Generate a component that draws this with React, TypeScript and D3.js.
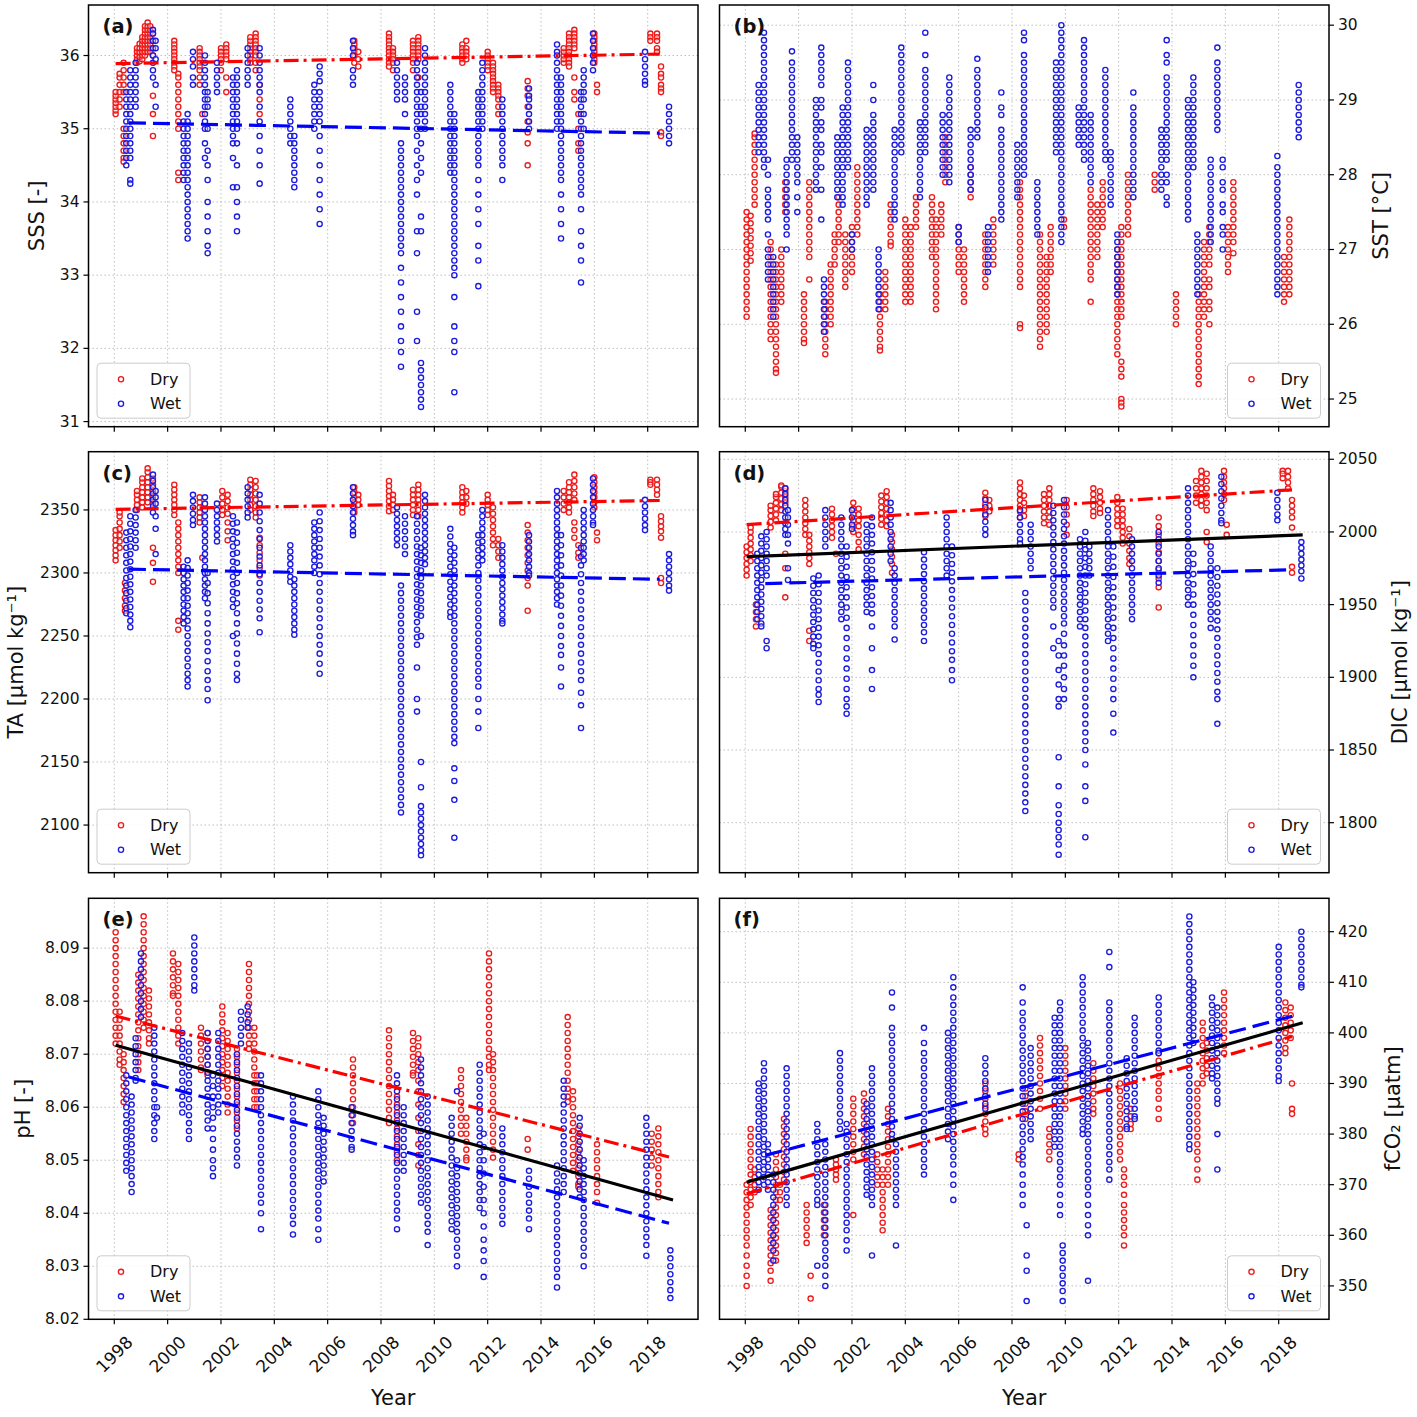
import React from "react";
import * as d3 from "d3";

type Cruise = [number, number[]];
type Pt = [number, number];

// ---------- axis ticks ----------
const yearTicks = [1998, 2000, 2002, 2004, 2006, 2008, 2010, 2012, 2014, 2016, 2018];
const sssTicks = [31, 32, 33, 34, 35, 36];
const sstTicks = [25, 26, 27, 28, 29, 30];
const taTicks = [2100, 2150, 2200, 2250, 2300, 2350];
const dicTicks = [1800, 1850, 1900, 1950, 2000, 2050];
const phTicks = [8.02, 8.03, 8.04, 8.05, 8.06, 8.07, 8.08, 8.09];
const fco2Ticks = [350, 360, 370, 380, 390, 400, 410, 420];

// ---------- (a) SSS ----------
const sssDry: Cruise[] = [
  [1998.05, [35.2, 35.25, 35.3, 35.35, 35.4, 35.45, 35.5]],
  [1998.2, [35.3, 35.4, 35.5, 35.6, 35.7, 35.75]],
  [1998.35, [35.5, 35.6, 35.7, 35.8, 35.9, 35.0, 34.9, 34.8, 34.7, 34.6, 34.55]],
  [1998.85, [35.9, 35.95, 36.0, 36.05, 36.1]],
  [1998.95, [35.92, 35.98, 36.04, 36.1, 36.16]],
  [1999.05, [35.95, 36.0, 36.05, 36.1, 36.15, 36.2, 36.25]],
  [1999.15, [36.0, 36.05, 36.1, 36.15, 36.2, 36.25, 36.3, 36.35, 36.4]],
  [1999.25, [36.05, 36.1, 36.15, 36.2, 36.25, 36.3, 36.35, 36.4, 36.45]],
  [1999.35, [36.05, 36.1, 36.15, 36.2, 36.25, 36.3, 36.35, 36.4]],
  [1999.45, [36.0, 36.1, 36.2, 36.3, 35.45, 35.2, 34.9]],
  [2000.25, [36.2, 36.15, 36.1, 36.05, 36.0, 35.95, 35.9, 35.85, 35.8]],
  [2000.4, [35.75, 35.7, 35.6, 35.5, 35.4, 35.3, 35.2, 35.1, 35.0, 34.4, 34.3]],
  [2001.2, [36.1, 36.05, 36.0, 35.95, 35.9, 35.85, 35.8, 35.7, 35.6]],
  [2001.3, [35.2]],
  [2002.0, [36.1, 36.05, 36.0, 35.95, 35.9, 35.8]],
  [2002.2, [36.15, 36.1, 36.05, 36.0, 35.95, 35.7, 35.5]],
  [2003.1, [36.1, 36.15, 36.2, 36.25, 36.05, 36.0, 35.95, 35.9]],
  [2003.3, [36.3, 36.25, 36.2, 36.15, 36.1, 36.05, 36.0, 35.9, 35.8]],
  [2003.45, [35.6, 35.4, 35.2]],
  [2007.0, [36.2, 36.15, 36.1, 36.05, 36.0, 35.9]],
  [2007.15, [36.05, 35.95, 35.85]],
  [2008.3, [36.3, 36.25, 36.2, 36.15, 36.1, 36.05, 36.0, 35.95, 35.9, 35.85]],
  [2008.45, [36.1, 36.05, 36.0, 35.95, 35.9, 35.8]],
  [2009.2, [36.2, 36.15, 36.1, 36.05, 36.0, 35.95, 35.9, 35.8]],
  [2009.4, [36.25, 36.2, 36.15, 36.1, 36.05, 36.0, 35.95, 35.7]],
  [2011.05, [36.15, 36.1, 36.05, 36.0, 35.95, 35.9]],
  [2011.2, [36.2, 36.1, 36.05, 36.0, 35.95]],
  [2012.0, [36.05, 36.0, 35.95, 35.9, 35.85, 35.8]],
  [2012.2, [35.9, 35.85, 35.8, 35.75, 35.7, 35.65, 35.6, 35.55, 35.5]],
  [2012.4, [35.6, 35.55, 35.5, 35.45, 35.4, 35.3, 35.2]],
  [2013.5, [35.65, 35.55, 35.45, 35.3, 35.1, 34.95, 34.8, 34.5]],
  [2014.85, [35.9, 35.95, 36.0, 36.05, 36.1]],
  [2015.05, [36.3, 36.25, 36.2, 36.15, 36.1, 36.05, 36.0, 35.95, 35.9, 35.85]],
  [2015.25, [36.35, 36.3, 36.25, 36.2, 36.15, 36.1, 35.7, 35.5, 35.4]],
  [2015.4, [35.2, 35.0, 34.8, 34.7]],
  [2016.0, [36.3, 36.25, 36.2, 36.15, 36.1, 36.05, 36.0, 35.95, 35.9]],
  [2016.1, [35.6, 35.5]],
  [2018.1, [36.3, 36.25, 36.2]],
  [2018.35, [36.3, 36.25, 36.2, 36.1, 36.05]],
  [2018.5, [35.85, 35.75, 35.7, 35.6, 35.55, 35.5, 34.95, 34.9]],
];
const sssWet: Cruise[] = [
  [1998.45, [35.5, 35.4, 35.3, 35.2, 35.1, 35.0, 34.9, 34.8, 34.7, 34.6, 34.5]],
  [1998.6, [35.8, 35.7, 35.6, 35.5, 35.4, 35.3, 35.2, 35.1, 35.0, 34.9, 34.8, 34.7, 34.6, 34.3, 34.25]],
  [1998.8, [35.9, 35.8, 35.7, 35.6, 35.5, 35.4, 35.3]],
  [1999.45, [36.35, 36.3, 36.2, 36.1, 36.0, 35.9, 35.8, 35.7]],
  [1999.55, [36.2, 36.1, 35.95, 35.6, 35.3]],
  [2000.6, [35.1, 35.0, 34.9, 34.8, 34.7, 34.6, 34.5, 34.4, 34.3]],
  [2000.75, [35.2, 35.1, 35.0, 34.9, 34.8, 34.7, 34.6, 34.5, 34.4, 34.3, 34.2, 34.1, 34.0, 33.9, 33.8, 33.7, 33.6, 33.5]],
  [2000.95, [36.05, 35.95, 35.85, 35.7, 35.6]],
  [2001.4, [36.0, 35.9, 35.8, 35.7, 35.6, 35.5, 35.4, 35.3, 35.2, 35.1, 35.0, 34.8, 34.6]],
  [2001.5, [35.5, 35.4, 35.3, 35.0, 34.7, 34.5, 34.3, 34.0, 33.8, 33.6, 33.4, 33.3]],
  [2001.85, [35.9, 35.8, 35.7, 35.6, 35.5]],
  [2002.45, [35.7, 35.6, 35.5, 35.4, 35.3, 35.2, 35.1, 35.0, 34.9, 34.8, 34.6, 34.2]],
  [2002.6, [35.8, 35.7, 35.6, 35.5, 35.4, 35.3, 35.2, 35.1, 35.0, 34.8, 34.5, 34.2, 34.0, 33.8, 33.6]],
  [2003.0, [36.1, 36.0, 35.9, 35.8, 35.7, 35.6]],
  [2003.45, [36.1, 36.0, 35.9, 35.8, 35.7, 35.6, 35.5, 35.3, 35.1, 34.9, 34.7, 34.5, 34.25]],
  [2004.6, [35.4, 35.3, 35.2, 35.1, 35.0, 34.9, 34.8]],
  [2004.75, [34.9, 34.8, 34.7, 34.6, 34.5, 34.4, 34.3, 34.2]],
  [2005.5, [35.6, 35.5, 35.4, 35.3, 35.2, 35.1, 35.0]],
  [2005.7, [35.85, 35.75, 35.65, 35.5, 35.4, 35.3, 35.2, 35.1, 34.9, 34.7, 34.5, 34.3, 34.1, 33.9, 33.7]],
  [2006.95, [36.2, 36.1, 36.0, 35.8, 35.7, 35.6]],
  [2008.6, [35.9, 35.8, 35.7, 35.6, 35.5, 35.4]],
  [2008.75, [34.8, 34.7, 34.6, 34.5, 34.4, 34.3, 34.2, 34.1, 34.0, 33.9, 33.8, 33.7, 33.6, 33.5, 33.4, 33.3, 33.1, 32.9, 32.7, 32.5, 32.3, 32.1, 31.95, 31.75]],
  [2008.9, [35.7, 35.6, 35.5, 35.4, 35.2]],
  [2009.35, [35.9, 35.8, 35.7, 35.6, 35.5, 35.4, 35.3, 35.2, 35.1, 35.0, 34.9, 34.7, 34.5, 34.3, 34.1, 33.6, 33.3, 32.5, 32.1]],
  [2009.5, [35.5, 35.3, 35.2, 35.0, 34.8, 34.6, 34.4, 33.8, 33.6, 31.8, 31.7, 31.6, 31.5, 31.4, 31.3, 31.2]],
  [2009.65, [36.1, 36.0, 35.9, 35.8, 35.7, 35.6, 35.5, 35.4, 35.3, 35.2, 35.1, 35.0]],
  [2010.6, [35.6, 35.5, 35.4, 35.3, 35.2, 35.1, 35.0, 34.9, 34.8, 34.7, 34.6, 34.5, 34.4]],
  [2010.75, [35.2, 35.1, 35.0, 34.9, 34.8, 34.7, 34.6, 34.5, 34.4, 34.3, 34.2, 34.1, 34.0, 33.9, 33.8, 33.7, 33.6, 33.5, 33.4, 33.3, 33.2, 33.1, 33.0, 32.7, 32.3, 32.1, 31.95, 31.4]],
  [2011.65, [35.5, 35.4, 35.3, 35.2, 35.1, 35.0, 34.9, 34.8, 34.7, 34.6, 34.5, 34.3, 34.1, 33.9, 33.7, 33.4, 33.2, 32.85]],
  [2011.8, [35.9, 35.8, 35.7, 35.6, 35.5, 35.4, 35.3, 35.2, 35.1, 35.0]],
  [2012.55, [35.4, 35.3, 35.2, 35.1, 35.0, 34.9, 34.8, 34.7, 34.6, 34.5, 34.3]],
  [2013.55, [35.55, 35.45, 35.4, 35.3, 35.2, 35.1, 35.0]],
  [2014.6, [36.15, 36.05, 36.0, 35.9, 35.8, 35.7, 35.6, 35.5, 35.4, 35.3, 35.2, 35.1, 35.0]],
  [2014.75, [35.7, 35.6, 35.5, 35.4, 35.3, 35.2, 35.1, 35.0, 34.9, 34.8, 34.7, 34.6, 34.5, 34.4, 34.3, 34.1, 33.9, 33.7, 33.5]],
  [2015.5, [35.5, 35.4, 35.3, 35.2, 35.1, 35.0, 34.9, 34.8, 34.7, 34.6, 34.5, 34.4, 34.3, 34.2, 34.1, 33.9, 33.6, 33.4, 33.2, 32.9]],
  [2015.6, [35.8, 35.7, 35.6, 35.5, 35.4, 35.2, 35.0]],
  [2015.95, [36.3, 36.2, 36.1, 36.0, 35.9, 35.8]],
  [2017.9, [36.05, 35.95, 35.85, 35.75, 35.65, 35.6]],
  [2018.8, [35.3, 35.2, 35.1, 35.0, 34.9, 34.8]],
];
const sssTrendDry: Pt[] = [[1998.05, 35.89], [2018.45, 36.02]];
const sssTrendWet: Pt[] = [[1998.55, 35.08], [2018.45, 34.94]];

// ---------- (b) SST ----------
const sstDry: Cruise[] = [
  [1998.05, [27.5, 27.4, 27.3, 27.2, 27.1, 27.0, 26.9, 26.8, 26.7, 26.6, 26.5, 26.4, 26.3, 26.2, 26.1]],
  [1998.2, [27.45, 27.35, 27.25, 27.15, 27.05, 26.95, 26.85]],
  [1998.35, [27.6, 27.7, 27.8, 27.9, 28.0, 28.1, 28.2, 28.3, 28.4, 28.5, 28.55]],
  [1998.95, [27.1, 27.0, 26.9, 26.8, 26.7, 26.6, 26.5, 26.4, 26.3, 26.2, 26.1, 26.0, 25.9, 25.8]],
  [1999.15, [26.8, 26.7, 26.6, 26.5, 26.4, 26.3, 26.2, 26.1, 26.0, 25.9, 25.8, 25.7, 25.6, 25.5, 25.4, 25.35]],
  [1999.35, [27.0, 26.9, 26.8, 26.7, 26.6, 26.5, 26.4, 26.3]],
  [1999.5, [27.9, 27.8, 27.7, 27.6, 27.5]],
  [2000.2, [26.4, 26.3, 26.2, 26.1, 26.0, 25.9, 25.8, 25.75]],
  [2000.4, [27.9, 27.8, 27.7, 27.6, 27.5, 27.4, 27.3, 27.2, 27.1, 27.0, 26.9, 26.6]],
  [2001.0, [26.3, 26.2, 26.1, 26.0, 25.9, 25.8, 25.7, 25.6]],
  [2001.2, [26.8, 26.7, 26.6, 26.5, 26.4, 26.3, 26.2, 26.1, 26.0]],
  [2001.35, [27.2, 27.1, 27.0, 26.9, 26.8]],
  [2001.5, [27.7, 27.6, 27.5, 27.4, 27.3, 27.2, 27.1]],
  [2001.75, [27.2, 27.1, 27.0, 26.9, 26.8, 26.7, 26.6, 26.5]],
  [2002.0, [27.3, 27.2, 27.1, 27.0, 26.9, 26.8, 26.7]],
  [2002.2, [28.1, 28.0, 27.9, 27.8, 27.7, 27.6, 27.5, 27.4, 27.3, 27.2]],
  [2003.05, [26.4, 26.3, 26.2, 26.1, 26.0, 25.9, 25.8, 25.7, 25.65]],
  [2003.25, [26.7, 26.6, 26.5, 26.4, 26.3, 26.2]],
  [2003.45, [27.6, 27.5, 27.4, 27.3, 27.2, 27.1, 27.05]],
  [2004.0, [27.4, 27.3, 27.2, 27.1, 27.0, 26.9, 26.8, 26.7, 26.6, 26.5, 26.4, 26.3]],
  [2004.2, [27.3, 27.2, 27.1, 27.0, 26.9, 26.8, 26.7, 26.6, 26.5, 26.4, 26.3]],
  [2004.4, [27.7, 27.6, 27.5, 27.4, 27.3]],
  [2005.0, [27.7, 27.6, 27.5, 27.4, 27.3, 27.2, 27.1, 27.0, 26.9]],
  [2005.15, [27.4, 27.3, 27.2, 27.1, 27.0, 26.9, 26.8, 26.7, 26.6, 26.5, 26.4, 26.3, 26.2]],
  [2005.35, [27.6, 27.5, 27.4, 27.3, 27.2]],
  [2005.5, [28.5, 28.4, 28.3, 28.2, 28.1, 28.0, 27.9]],
  [2006.0, [27.3, 27.2, 27.1, 27.0, 26.9, 26.8, 26.7]],
  [2006.2, [27.0, 26.9, 26.8, 26.7, 26.6, 26.5, 26.4, 26.3]],
  [2006.45, [28.1, 28.0, 27.9, 27.8, 27.7]],
  [2007.0, [27.2, 27.1, 27.0, 26.9, 26.8, 26.7, 26.6, 26.5]],
  [2007.3, [27.4, 27.3, 27.2, 27.1, 27.0, 26.9, 26.8]],
  [2008.3, [27.9, 27.8, 27.7, 27.6, 27.5, 27.4, 27.3, 27.2, 27.1, 27.0, 26.9, 26.8, 26.7, 26.6, 26.5, 26.0, 25.95]],
  [2009.05, [27.2, 27.1, 27.0, 26.9, 26.8, 26.7, 26.6, 26.5, 26.4, 26.3, 26.2, 26.1, 26.0, 25.9, 25.8, 25.7]],
  [2009.3, [26.9, 26.8, 26.7, 26.6, 26.5, 26.4, 26.3, 26.2, 26.1, 26.0, 25.9]],
  [2009.45, [27.3, 27.2, 27.1, 27.0, 26.9, 26.8, 26.7]],
  [2009.95, [27.4, 27.3]],
  [2010.95, [27.8, 27.7, 27.6, 27.5, 27.4, 27.3, 27.2, 27.1, 27.0, 26.9, 26.8, 26.7, 26.6, 26.3]],
  [2011.2, [27.6, 27.5, 27.4, 27.3, 27.2, 27.1, 27.0, 26.9]],
  [2011.4, [27.9, 27.8, 27.7, 27.6, 27.5, 27.4, 27.3]],
  [2011.95, [27.0, 26.9, 26.8, 26.7, 26.6, 26.5, 26.4, 26.3, 26.2, 26.1, 26.0, 25.9, 25.8, 25.7, 25.6]],
  [2012.1, [27.3, 27.2, 27.1, 27.0, 26.9, 26.8, 26.7, 26.6, 26.5, 26.4, 26.3, 26.2, 26.1, 25.5, 25.4, 25.3, 25.0, 24.95, 24.9]],
  [2012.35, [28.0, 27.9, 27.8, 27.7, 27.6, 27.5, 27.4, 27.3, 27.2]],
  [2013.35, [28.0, 27.9, 27.8]],
  [2014.15, [26.4, 26.3, 26.2, 26.1, 26.0]],
  [2015.0, [26.4, 26.3, 26.2, 26.1, 26.0, 25.9, 25.8, 25.7, 25.6, 25.5, 25.4, 25.3, 25.2]],
  [2015.2, [27.1, 27.0, 26.9, 26.8, 26.7, 26.6, 26.5, 26.4, 26.3, 26.2, 26.1]],
  [2015.4, [27.3, 27.2, 27.1, 27.0, 26.9, 26.8, 26.6, 26.5, 26.3, 26.2, 26.0]],
  [2016.1, [27.3, 27.2, 27.1, 27.0, 26.9, 26.8, 26.7]],
  [2016.3, [27.9, 27.8, 27.7, 27.6, 27.5, 27.4, 27.3, 27.2, 27.1, 26.95]],
  [2018.2, [26.9, 26.8, 26.7, 26.6, 26.5, 26.4, 26.3]],
  [2018.4, [27.4, 27.3, 27.2, 27.1, 27.0, 26.9, 26.8, 26.7, 26.6, 26.5, 26.4]],
];
const sstWet: Cruise[] = [
  [1998.5, [29.2, 29.1, 29.0, 28.9, 28.8, 28.7, 28.6, 28.5, 28.4, 28.3]],
  [1998.7, [29.9, 29.8, 29.7, 29.6, 29.5, 29.4, 29.3, 29.2, 29.1, 29.0, 28.9, 28.8, 28.7, 28.6, 28.5, 28.4, 28.3, 28.2, 28.1]],
  [1998.85, [28.2, 28.0, 27.8, 27.7, 27.6, 27.5, 27.4, 27.2, 27.0, 26.9, 26.8, 26.7, 26.6]],
  [1999.05, [26.9, 26.8, 26.7, 26.6, 26.5, 26.4, 26.3, 26.2, 26.1]],
  [1999.55, [28.2, 28.1, 28.0, 27.9, 27.8, 27.7, 27.6, 27.5, 27.4, 27.3, 27.2, 27.0]],
  [1999.75, [29.65, 29.5, 29.4, 29.3, 29.2, 29.1, 29.0, 28.9, 28.8, 28.7, 28.6, 28.5, 28.4, 28.3, 28.2]],
  [1999.95, [28.5, 28.4, 28.3, 28.2, 28.1, 28.0, 27.9, 27.7, 27.5]],
  [2000.65, [29.0, 28.9, 28.8, 28.7, 28.6, 28.5, 28.4, 28.3, 28.2, 28.1, 28.0, 27.9, 27.8]],
  [2000.85, [29.7, 29.6, 29.5, 29.4, 29.3, 29.2, 29.0, 28.9, 28.7, 28.6, 28.4, 28.3, 28.1, 27.8, 27.4]],
  [2000.95, [26.6, 26.5, 26.4, 26.3, 26.2, 26.1, 26.0, 25.9]],
  [2001.45, [28.5, 28.4, 28.3, 28.2, 28.1, 28.0, 27.9, 27.8, 27.7]],
  [2001.65, [28.9, 28.8, 28.7, 28.6, 28.5, 28.4, 28.3, 28.2, 28.1, 28.0, 27.9, 27.8, 27.7, 27.6]],
  [2001.85, [29.5, 29.4, 29.3, 29.2, 29.1, 29.0, 28.9, 28.8, 28.7, 28.6, 28.5, 28.4, 28.3, 28.2, 28.1]],
  [2002.0, [27.2, 27.1, 27.0]],
  [2002.55, [28.6, 28.5, 28.4, 28.3, 28.2, 28.1, 28.0, 27.9, 27.8, 27.7, 27.6]],
  [2002.8, [29.2, 29.0, 28.8, 28.7, 28.6, 28.5, 28.4, 28.3, 28.2, 28.1, 28.0, 27.9, 27.8]],
  [2003.0, [27.0, 26.9, 26.8, 26.7, 26.6, 26.5, 26.4, 26.3, 26.2]],
  [2003.6, [28.6, 28.5, 28.4, 28.3, 28.2, 28.1, 28.0, 27.9, 27.8, 27.7, 27.6, 27.5, 27.4]],
  [2003.85, [29.7, 29.6, 29.5, 29.4, 29.3, 29.2, 29.1, 29.0, 28.9, 28.8, 28.7, 28.6, 28.5, 28.4, 28.3]],
  [2004.55, [28.7, 28.6, 28.5, 28.4, 28.3, 28.2, 28.1, 28.0, 27.9, 27.8, 27.7]],
  [2004.75, [29.9, 29.6, 29.4, 29.3, 29.2, 29.1, 29.0, 28.9, 28.8, 28.7, 28.6, 28.5, 28.4, 28.3]],
  [2005.4, [28.8, 28.7, 28.6, 28.5, 28.4, 28.3, 28.2, 28.1, 28.0]],
  [2005.65, [29.3, 29.2, 29.1, 29.0, 28.9, 28.8, 28.7, 28.6, 28.5, 28.4, 28.3, 28.2, 28.1, 28.0, 27.9]],
  [2006.0, [27.3, 27.2, 27.1]],
  [2006.45, [28.6, 28.5, 28.4, 28.3, 28.2, 28.1, 28.0, 27.9, 27.8]],
  [2006.7, [29.55, 29.4, 29.3, 29.2, 29.1, 29.0, 28.9, 28.8, 28.7, 28.6, 28.5]],
  [2007.1, [27.3, 27.2, 27.1, 27.0, 26.9, 26.8, 26.7]],
  [2007.6, [29.1, 28.9, 28.8, 28.6, 28.5, 28.4, 28.3, 28.2, 28.1, 28.0, 27.9, 27.8, 27.7, 27.6, 27.5, 27.4]],
  [2008.2, [28.4, 28.3, 28.2, 28.1, 28.0, 27.9, 27.8, 27.7]],
  [2008.45, [29.9, 29.8, 29.6, 29.5, 29.4, 29.3, 29.2, 29.1, 29.0, 28.9, 28.8, 28.7, 28.6, 28.5, 28.4, 28.3, 28.2, 28.1, 28.0]],
  [2008.95, [27.9, 27.8, 27.7, 27.6, 27.5, 27.4, 27.3, 27.2]],
  [2009.65, [29.5, 29.4, 29.3, 29.2, 29.1, 29.0, 28.9, 28.8, 28.7, 28.6, 28.5, 28.4, 28.3]],
  [2009.85, [30.0, 29.9, 29.8, 29.7, 29.6, 29.5, 29.4, 29.3, 29.2, 29.1, 29.0, 28.9, 28.8, 28.7, 28.6, 28.5, 28.4, 28.3, 28.2, 28.1, 28.0, 27.9, 27.8, 27.7, 27.6, 27.5, 27.4, 27.3, 27.2, 27.1]],
  [2010.5, [28.9, 28.8, 28.7, 28.6, 28.5, 28.4]],
  [2010.7, [29.8, 29.7, 29.6, 29.5, 29.4, 29.3, 29.2, 29.1, 29.0, 28.9, 28.8, 28.7, 28.6, 28.5, 28.4, 28.3, 28.2]],
  [2010.95, [28.8, 28.7, 28.6, 28.5, 28.4, 28.3, 28.2, 28.1, 28.0, 27.9]],
  [2011.5, [29.4, 29.3, 29.2, 29.1, 29.0, 28.9, 28.8, 28.7, 28.6, 28.5, 28.4, 28.3, 28.2]],
  [2011.7, [28.3, 28.2, 28.1, 28.0, 27.9, 27.8, 27.7, 27.6]],
  [2011.95, [27.2, 27.1, 27.0, 26.9, 26.8, 26.7, 26.6, 26.5, 26.4]],
  [2012.55, [29.1, 28.9, 28.8, 28.7, 28.6, 28.5, 28.4, 28.3, 28.2, 28.1, 28.0, 27.9, 27.8, 27.7]],
  [2013.6, [28.6, 28.5, 28.4, 28.3, 28.2, 28.1, 28.0, 27.9, 27.8]],
  [2013.8, [29.8, 29.6, 29.5, 29.3, 29.2, 29.1, 29.0, 28.9, 28.8, 28.7, 28.6, 28.5, 28.4, 28.3, 28.2, 28.0, 27.9, 27.7, 27.6]],
  [2014.6, [29.0, 28.9, 28.8, 28.7, 28.6, 28.5, 28.4, 28.3, 28.2, 28.1, 28.0, 27.9, 27.8, 27.7, 27.6, 27.5, 27.4]],
  [2014.8, [29.3, 29.2, 29.1, 29.0, 28.9, 28.8, 28.7, 28.6, 28.5, 28.4, 28.3, 28.2, 28.1]],
  [2014.95, [27.2, 27.1, 27.0, 26.9, 26.8, 26.7, 26.6, 26.5, 26.4]],
  [2015.45, [28.2, 28.1, 28.0, 27.9, 27.8, 27.7, 27.6, 27.5, 27.4, 27.3, 27.2, 27.1]],
  [2015.7, [29.7, 29.5, 29.4, 29.3, 29.2, 29.1, 29.0, 28.9, 28.8, 28.7, 28.6]],
  [2015.9, [28.2, 28.1, 27.9, 27.8, 27.6, 27.5, 27.3, 27.2, 27.0]],
  [2017.95, [28.25, 28.1, 28.0, 27.9, 27.8, 27.7, 27.6, 27.5, 27.4, 27.3, 27.2, 27.1, 27.0, 26.9, 26.8, 26.7, 26.6, 26.5, 26.4]],
  [2018.75, [29.2, 29.1, 29.0, 28.9, 28.8, 28.7, 28.6, 28.5]],
];

// ---------- (c) TA ----------
const taDry: Cruise[] = [
  [1998.05, [2310, 2314, 2318, 2322, 2326, 2330, 2334]],
  [1998.2, [2320, 2325, 2330, 2335, 2340, 2345, 2348]],
  [1998.4, [2292, 2286, 2280, 2274, 2270]],
  [1998.85, [2350, 2354, 2358, 2362, 2365]],
  [1999.05, [2352, 2356, 2360, 2364, 2368, 2372, 2375]],
  [1999.25, [2356, 2360, 2364, 2368, 2372, 2376, 2380, 2383]],
  [1999.45, [2355, 2360, 2365, 2370, 2375, 2320, 2308, 2293]],
  [2000.25, [2370, 2366, 2362, 2358, 2354, 2350, 2346]],
  [2000.4, [2340, 2335, 2330, 2325, 2320, 2315, 2310, 2305, 2300, 2262, 2255]],
  [2001.2, [2360, 2356, 2352, 2348, 2344, 2340]],
  [2001.3, [2312]],
  [2002.05, [2365, 2360, 2355, 2350, 2346]],
  [2002.25, [2362, 2357, 2352, 2347, 2340, 2333, 2326]],
  [2003.1, [2374, 2370, 2366, 2362, 2358, 2354, 2350]],
  [2003.3, [2373, 2368, 2363, 2358, 2353, 2348, 2344]],
  [2003.45, [2328, 2322, 2316, 2310, 2304, 2298]],
  [2007.0, [2368, 2364, 2360, 2356, 2352, 2348]],
  [2007.15, [2362, 2358, 2354]],
  [2008.3, [2373, 2369, 2365, 2361, 2357, 2353, 2349]],
  [2008.45, [2362, 2358, 2354, 2350]],
  [2009.2, [2366, 2362, 2358, 2354, 2350, 2346]],
  [2009.4, [2370, 2366, 2362, 2358, 2354, 2350, 2345]],
  [2011.05, [2368, 2364, 2360, 2356, 2352, 2348]],
  [2011.2, [2365, 2360, 2355]],
  [2012.0, [2362, 2358, 2354, 2350, 2346]],
  [2012.2, [2352, 2347, 2342, 2337, 2332, 2327, 2322]],
  [2012.4, [2327, 2322, 2317, 2312]],
  [2013.5, [2338, 2332, 2326, 2320, 2314, 2308, 2302, 2296, 2290, 2270]],
  [2014.85, [2350, 2355, 2360, 2365]],
  [2015.05, [2372, 2368, 2364, 2360, 2356, 2352, 2348]],
  [2015.25, [2378, 2373, 2368, 2363, 2358, 2340, 2334, 2328]],
  [2015.4, [2322, 2316, 2312]],
  [2016.0, [2376, 2372, 2368, 2364, 2360, 2356, 2352]],
  [2016.1, [2332, 2326]],
  [2018.1, [2374, 2372, 2370]],
  [2018.35, [2374, 2370, 2366, 2362]],
  [2018.5, [2345, 2341, 2337, 2333, 2328, 2296, 2292]],
];
const taWet: Cruise[] = [
  [1998.45, [2332, 2326, 2320, 2314, 2308, 2302, 2296, 2290, 2284, 2278, 2272, 2268]],
  [1998.6, [2345, 2339, 2333, 2327, 2321, 2315, 2309, 2303, 2297, 2291, 2285, 2279, 2273, 2267, 2262, 2257]],
  [1998.8, [2350, 2344, 2338, 2332, 2326, 2320]],
  [1999.45, [2378, 2373, 2368, 2363, 2358, 2353, 2348]],
  [1999.55, [2365, 2360, 2355, 2345, 2335, 2315]],
  [2000.6, [2305, 2300, 2295, 2290, 2285, 2280, 2275, 2270, 2265, 2260]],
  [2000.75, [2310, 2304, 2298, 2292, 2286, 2280, 2274, 2268, 2262, 2256, 2250, 2244, 2238, 2232, 2226, 2220, 2215, 2210]],
  [2000.95, [2362, 2357, 2352, 2347, 2342, 2338]],
  [2001.4, [2360, 2355, 2350, 2345, 2340, 2335, 2330, 2325, 2320, 2315, 2310, 2305, 2300, 2295, 2290, 2285, 2280]],
  [2001.5, [2300, 2292, 2284, 2276, 2268, 2260, 2252, 2245, 2238, 2230, 2222, 2215, 2208, 2199]],
  [2001.85, [2355, 2350, 2345, 2340, 2335, 2330, 2325]],
  [2002.45, [2345, 2339, 2333, 2327, 2321, 2315, 2309, 2303, 2297, 2291, 2285, 2279, 2273, 2250]],
  [2002.6, [2340, 2332, 2324, 2316, 2308, 2300, 2292, 2284, 2276, 2268, 2260, 2252, 2244, 2236, 2228, 2220, 2215]],
  [2003.0, [2368, 2363, 2358, 2353, 2348, 2344]],
  [2003.45, [2362, 2355, 2348, 2341, 2334, 2327, 2320, 2313, 2306, 2299, 2292, 2285, 2278, 2271, 2264, 2253]],
  [2004.6, [2322, 2317, 2312, 2307, 2302, 2297, 2293]],
  [2004.75, [2295, 2290, 2285, 2280, 2275, 2270, 2265, 2260, 2255, 2251]],
  [2005.5, [2340, 2335, 2330, 2325, 2320, 2315, 2310, 2305, 2300]],
  [2005.7, [2348, 2341, 2334, 2327, 2320, 2313, 2306, 2299, 2292, 2285, 2278, 2271, 2264, 2257, 2250, 2243, 2236, 2228, 2220]],
  [2006.95, [2368, 2363, 2358, 2353, 2348, 2343, 2338, 2333, 2330]],
  [2008.6, [2352, 2347, 2342, 2337, 2332, 2327, 2322]],
  [2008.75, [2290, 2284, 2278, 2272, 2266, 2260, 2254, 2248, 2242, 2236, 2230, 2224, 2218, 2212, 2206, 2200, 2194, 2188, 2182, 2176, 2170, 2164, 2158, 2152, 2146, 2140, 2134, 2128, 2122, 2116, 2110]],
  [2008.9, [2345, 2339, 2333, 2327, 2321, 2315]],
  [2009.35, [2345, 2339, 2333, 2327, 2321, 2315, 2309, 2303, 2297, 2291, 2285, 2279, 2273, 2267, 2261, 2255, 2249, 2243, 2225, 2200, 2190]],
  [2009.5, [2320, 2314, 2308, 2302, 2296, 2290, 2284, 2278, 2272, 2266, 2250, 2150, 2130, 2115, 2110, 2105, 2100, 2095, 2090, 2085, 2080, 2076]],
  [2009.65, [2362, 2357, 2352, 2347, 2342, 2337, 2332, 2327, 2322, 2317, 2312, 2307]],
  [2010.6, [2335, 2329, 2323, 2317, 2311, 2305, 2299, 2293, 2287, 2281, 2275, 2269, 2265]],
  [2010.75, [2320, 2314, 2308, 2302, 2296, 2290, 2284, 2278, 2272, 2266, 2260, 2254, 2248, 2242, 2236, 2230, 2224, 2218, 2212, 2206, 2200, 2194, 2188, 2182, 2176, 2170, 2165, 2145, 2135, 2120, 2090]],
  [2011.65, [2330, 2324, 2318, 2312, 2306, 2300, 2294, 2288, 2282, 2276, 2270, 2264, 2258, 2252, 2246, 2240, 2234, 2228, 2222, 2216, 2210, 2200, 2190, 2177]],
  [2011.8, [2350, 2345, 2340, 2335, 2330, 2325, 2320, 2315, 2310]],
  [2012.55, [2322, 2317, 2312, 2307, 2302, 2297, 2292, 2287, 2282, 2277, 2272, 2267, 2262, 2260]],
  [2013.55, [2330, 2325, 2320, 2315, 2310, 2305, 2300, 2298]],
  [2014.6, [2365, 2360, 2355, 2350, 2345, 2340, 2335, 2330, 2325, 2320, 2315, 2310, 2305, 2300, 2295, 2290, 2285, 2280, 2275]],
  [2014.75, [2330, 2322, 2314, 2306, 2298, 2290, 2282, 2274, 2266, 2258, 2250, 2242, 2235, 2225, 2210]],
  [2015.5, [2320, 2313, 2306, 2299, 2292, 2285, 2278, 2271, 2264, 2257, 2250, 2243, 2236, 2229, 2222, 2215, 2205, 2195, 2177]],
  [2015.6, [2350, 2345, 2340, 2335, 2330, 2325, 2320, 2315, 2310]],
  [2015.95, [2375, 2370, 2365, 2360, 2355, 2350, 2345, 2340, 2338]],
  [2017.9, [2358, 2353, 2348, 2343, 2338, 2334]],
  [2018.8, [2315, 2310, 2305, 2300, 2295, 2290, 2286]],
];
const taTrendDry: Pt[] = [[1998.05, 2350.5], [2018.45, 2357.5]];
const taTrendWet: Pt[] = [[1998.55, 2303], [2018.45, 2295]];

// ---------- (d) DIC ----------
const dicDry: Cruise[] = [
  [1998.05, [1970, 1974, 1978, 1982, 1986, 1990]],
  [1998.2, [1980, 1984, 1988, 1992, 1996, 2000, 2003]],
  [1998.4, [1950, 1945, 1940, 1935]],
  [1998.95, [2003, 2007, 2011, 2015, 2018]],
  [1999.15, [2008, 2012, 2016, 2020, 2024, 2026]],
  [1999.35, [2015, 2019, 2023, 2027, 2031, 2032]],
  [1999.5, [2020, 2024, 2028, 2030, 1985, 1975, 1955]],
  [2000.25, [2022, 2018, 2014, 2010, 2006, 2002, 1998]],
  [2000.4, [1998, 1994, 1990, 1986, 1982, 1978, 1932, 1925]],
  [2001.25, [2016, 2012, 2008, 2004, 2000, 1996]],
  [2001.4, [1985]],
  [2002.05, [2020, 2016, 2012, 2008, 2004, 2000]],
  [2002.25, [2016, 2012, 2008, 2004, 1998, 1993, 1988]],
  [2003.1, [2025, 2021, 2017, 2013, 2009, 2005]],
  [2003.3, [2028, 2024, 2020, 2016, 2012, 2008, 2004]],
  [2003.5, [1998, 1993, 1988, 1983, 1978, 1972]],
  [2007.0, [2027, 2023, 2019, 2015, 2011]],
  [2007.15, [2022, 2018, 2014]],
  [2008.3, [2034, 2030, 2026, 2022, 2018, 2014, 2010]],
  [2008.45, [2025, 2020, 2015, 2011]],
  [2009.2, [2026, 2022, 2018, 2014, 2010, 2006]],
  [2009.4, [2030, 2026, 2022, 2018, 2014, 2010, 2005]],
  [2010.05, [2022, 2017, 2012, 2005, 1998]],
  [2011.05, [2030, 2026, 2022, 2018, 2014, 2011]],
  [2011.3, [2028, 2024, 2020, 2016, 2013]],
  [2011.95, [2024, 2020, 2016, 2012, 2008, 2004]],
  [2012.15, [2016, 2012, 2008, 2004, 2000, 1996, 1992]],
  [2012.4, [2002, 1997, 1992, 1987, 1982, 1978]],
  [2013.5, [2010, 2004, 1998, 1992, 1986, 1980, 1974, 1968, 1962, 1948]],
  [2014.9, [2020, 2025, 2030, 2035]],
  [2015.1, [2042, 2038, 2034, 2030, 2026, 2022, 2018]],
  [2015.3, [2040, 2035, 2030, 2025, 2020, 2015, 2000, 1993]],
  [2015.95, [2042, 2038, 2034, 2030, 2026, 2022]],
  [2016.05, [2005, 1998]],
  [2018.15, [2042, 2040, 2037]],
  [2018.35, [2042, 2038, 2034, 2030]],
  [2018.5, [2022, 2018, 2014, 2010, 2003, 1976, 1972]],
];
const dicWet: Cruise[] = [
  [1998.45, [1985, 1980, 1975, 1970, 1965, 1960, 1955, 1950, 1945, 1940]],
  [1998.6, [1997, 1992, 1987, 1982, 1977, 1972, 1967, 1962, 1957, 1952, 1947, 1942, 1937, 1935]],
  [1998.8, [2000, 1995, 1990, 1985, 1980, 1975, 1970, 1925, 1920]],
  [1999.5, [2030, 2026, 2022, 2018, 2014, 2010, 2006, 2002, 1998]],
  [1999.6, [2015, 2010, 2005, 1998, 1992, 1975, 1967]],
  [2000.55, [1968, 1963, 1958, 1953, 1948, 1943, 1938, 1933, 1928, 1923, 1920]],
  [2000.75, [1970, 1964, 1958, 1952, 1946, 1940, 1934, 1928, 1922, 1916, 1910, 1904, 1898, 1892, 1888, 1883]],
  [2001.0, [2015, 2010, 2005, 2000, 1995, 1990]],
  [2001.6, [2010, 2005, 2000, 1995, 1990, 1985, 1980, 1975, 1970, 1965, 1960, 1955, 1950, 1945, 1940]],
  [2001.8, [1990, 1983, 1976, 1969, 1962, 1955, 1948, 1941, 1934, 1927, 1920, 1913, 1906, 1899, 1892, 1885, 1880, 1875]],
  [2002.0, [2015, 2010, 2005, 2002]],
  [2002.55, [2005, 2000, 1995, 1990, 1985, 1980, 1975, 1970, 1965, 1960, 1955, 1950, 1945]],
  [2002.75, [2010, 2004, 1998, 1992, 1986, 1980, 1974, 1968, 1962, 1956, 1950, 1944, 1935, 1920, 1905, 1892]],
  [2003.45, [2020, 2015, 2010, 2005, 2000, 1995, 1990, 1985, 1980]],
  [2003.6, [1975, 1970, 1965, 1960, 1955, 1950, 1945, 1940, 1935, 1926]],
  [2004.7, [1986, 1981, 1976, 1971, 1966, 1961, 1956, 1951, 1946, 1941, 1936, 1931, 1925]],
  [2005.55, [2010, 2005, 2000, 1995, 1990, 1985, 1980, 1975, 1970]],
  [2005.75, [1990, 1984, 1978, 1972, 1966, 1960, 1954, 1948, 1942, 1936, 1930, 1924, 1918, 1912, 1905, 1898]],
  [2007.0, [2022, 2017, 2012, 2007, 2002, 1998]],
  [2008.3, [2015, 2010, 2005, 2000, 1995, 1992]],
  [2008.5, [1958, 1952, 1946, 1940, 1934, 1928, 1922, 1916, 1910, 1904, 1898, 1892, 1886, 1880, 1874, 1868, 1862, 1856, 1850, 1844, 1838, 1832, 1826, 1820, 1814, 1808]],
  [2008.7, [2005, 2000, 1995, 1990, 1985, 1980, 1975]],
  [2009.55, [2018, 2013, 2008, 2003, 1998, 1993, 1988, 1983, 1978, 1973, 1968, 1963, 1958, 1953, 1948, 1935, 1920]],
  [2009.75, [1925, 1915, 1905, 1895, 1885, 1880, 1845, 1825, 1812, 1806, 1800, 1795, 1790, 1785, 1778]],
  [2009.95, [2022, 2017, 2012, 2007, 2002, 1997, 1992, 1987, 1982, 1977, 1972, 1967, 1962, 1957, 1952, 1947, 1942, 1937, 1930, 1922, 1915, 1908, 1900, 1892, 1885]],
  [2010.55, [1995, 1990, 1985, 1980, 1975, 1970, 1965, 1960, 1955, 1950, 1945, 1940, 1935]],
  [2010.75, [2000, 1994, 1988, 1982, 1976, 1970, 1964, 1958, 1952, 1946, 1940, 1934, 1928, 1922, 1916, 1910, 1904, 1898, 1892, 1886, 1880, 1874, 1868, 1862, 1856, 1850, 1840, 1825, 1815, 1790]],
  [2010.9, [1990, 1985, 1980, 1975, 1970]],
  [2011.6, [2015, 2010, 2005, 2000, 1995, 1990, 1985, 1980, 1975, 1970, 1965, 1960, 1955, 1950, 1945, 1940, 1935, 1930, 1925]],
  [2011.8, [1990, 1983, 1976, 1969, 1962, 1955, 1948, 1941, 1934, 1927, 1920, 1913, 1906, 1899, 1892, 1885, 1875, 1862]],
  [2012.5, [1995, 1990, 1985, 1980, 1975, 1970, 1965, 1960, 1955, 1950, 1945, 1940]],
  [2013.5, [2000, 1995, 1990, 1985, 1980, 1975, 1970, 1965]],
  [2014.6, [2030, 2025, 2020, 2015, 2010, 2005, 2000, 1995, 1990, 1985, 1980, 1975, 1970, 1965, 1960, 1955, 1950]],
  [2014.8, [1985, 1978, 1971, 1964, 1957, 1950, 1943, 1936, 1929, 1922, 1915, 1908, 1900]],
  [2015.45, [1990, 1985, 1980, 1975, 1970, 1965, 1960, 1955, 1950, 1945, 1940, 1934]],
  [2015.7, [1975, 1969, 1963, 1957, 1951, 1945, 1939, 1933, 1927, 1921, 1915, 1909, 1903, 1897, 1890, 1885, 1868]],
  [2015.85, [2038, 2033, 2028, 2023, 2018, 2013, 2008, 2006]],
  [2017.95, [2027, 2022, 2017, 2012, 2008]],
  [2018.85, [1993, 1989, 1985, 1981, 1977, 1973, 1968]],
];
const dicTrendDry: Pt[] = [[1998.05, 2005], [2018.5, 2029]];
const dicTrendWet: Pt[] = [[1998.75, 1964.5], [2018.5, 1974]];
const dicTrendAll: Pt[] = [[1998.05, 1983], [2018.9, 1998]];

// ---------- (e) pH ----------
const phDry: Cruise[] = [
  [1998.05, [8.093, 8.0915, 8.09, 8.0885, 8.087, 8.0855, 8.084, 8.0825, 8.081, 8.0795, 8.078, 8.0765, 8.075, 8.0735, 8.072]],
  [1998.2, [8.078, 8.0765, 8.075, 8.0735, 8.072, 8.0705, 8.069, 8.068]],
  [1998.35, [8.07, 8.0685, 8.067, 8.0655, 8.064, 8.0625, 8.061]],
  [1998.9, [8.085, 8.0835, 8.082, 8.0805, 8.079, 8.0775, 8.076, 8.0745, 8.073, 8.0715, 8.07, 8.0685, 8.067]],
  [1999.1, [8.096, 8.0945, 8.093, 8.0915, 8.09, 8.0885, 8.087, 8.0855, 8.084, 8.0825, 8.081, 8.0795, 8.078, 8.0765, 8.075]],
  [1999.3, [8.082, 8.0805, 8.079, 8.0775, 8.076, 8.0745, 8.073, 8.072]],
  [2000.2, [8.089, 8.0875, 8.086, 8.0845, 8.083, 8.0815, 8.081]],
  [2000.4, [8.087, 8.0855, 8.084, 8.0825, 8.081, 8.0795, 8.078, 8.0765, 8.075, 8.0735, 8.072]],
  [2001.25, [8.075, 8.0735, 8.072, 8.0705, 8.069, 8.0675, 8.067]],
  [2001.5, [8.074, 8.0725, 8.071, 8.0695, 8.068, 8.0665, 8.066]],
  [2002.05, [8.079, 8.0775, 8.076, 8.0745, 8.073, 8.0715, 8.07, 8.0685, 8.067, 8.0655, 8.064]],
  [2002.25, [8.074, 8.0725, 8.071, 8.0695, 8.068, 8.0665, 8.065, 8.0635, 8.062, 8.0605, 8.059]],
  [2002.6, [8.071, 8.0695, 8.068, 8.0665, 8.065, 8.0635, 8.062, 8.0605, 8.059, 8.0575, 8.056]],
  [2003.05, [8.087, 8.0855, 8.084, 8.0825, 8.081, 8.0795, 8.078, 8.0765, 8.075, 8.0735, 8.072, 8.071]],
  [2003.25, [8.075, 8.0735, 8.072, 8.0705, 8.069, 8.0675, 8.066, 8.0645, 8.063, 8.0615, 8.06]],
  [2003.35, [8.066, 8.0645, 8.063, 8.0615, 8.06]],
  [2006.95, [8.069, 8.0675, 8.066, 8.0645, 8.063, 8.0615, 8.06, 8.0585, 8.057]],
  [2008.3, [8.0745, 8.073, 8.0715, 8.07, 8.0685, 8.067, 8.0655, 8.064, 8.0625, 8.061, 8.0595, 8.058, 8.057]],
  [2008.6, [8.062, 8.0605, 8.059, 8.0575, 8.056, 8.0545, 8.053, 8.0515, 8.05]],
  [2009.2, [8.074, 8.0725, 8.071, 8.0695, 8.068, 8.0665, 8.066]],
  [2009.4, [8.073, 8.0715, 8.07, 8.0685, 8.067, 8.065, 8.063, 8.0605, 8.058, 8.0555, 8.053, 8.051, 8.049]],
  [2011.0, [8.067, 8.0655, 8.064, 8.0625, 8.061, 8.0595, 8.058, 8.0565, 8.055]],
  [2011.2, [8.058, 8.0565, 8.055, 8.0535, 8.052, 8.0505, 8.05]],
  [2012.05, [8.089, 8.0875, 8.086, 8.0845, 8.083, 8.0815, 8.08, 8.0785, 8.077, 8.0755, 8.074, 8.0725, 8.071, 8.0695, 8.068, 8.067]],
  [2012.2, [8.07, 8.0685, 8.067, 8.0655, 8.064, 8.0625, 8.061, 8.0595, 8.058, 8.0565, 8.055, 8.0535, 8.052, 8.0505]],
  [2013.5, [8.054, 8.052]],
  [2015.0, [8.077, 8.0755, 8.074, 8.0725, 8.071, 8.0695, 8.068, 8.0665, 8.065, 8.0635, 8.062, 8.061]],
  [2015.2, [8.063, 8.0615, 8.06, 8.0585, 8.057, 8.0555, 8.054, 8.0525, 8.051, 8.0495, 8.048]],
  [2015.4, [8.056, 8.0545, 8.053, 8.0515, 8.05, 8.0485, 8.047, 8.0455, 8.045]],
  [2016.1, [8.053, 8.0515, 8.05, 8.0485, 8.047, 8.0455, 8.044, 8.042]],
  [2018.15, [8.055, 8.0535, 8.052, 8.0505, 8.049]],
  [2018.4, [8.056, 8.0545, 8.053, 8.0515, 8.05, 8.0485, 8.047, 8.0455, 8.044, 8.043]],
];
const phWet: Cruise[] = [
  [1998.45, [8.066, 8.0645, 8.063, 8.0615, 8.06, 8.0585, 8.057, 8.0555, 8.054, 8.0525, 8.051, 8.0495, 8.048]],
  [1998.65, [8.062, 8.0605, 8.059, 8.0575, 8.056, 8.0545, 8.053, 8.0515, 8.05, 8.0485, 8.047, 8.0455, 8.044]],
  [1998.8, [8.073, 8.0715, 8.07, 8.0685, 8.067, 8.0655, 8.065]],
  [1999.0, [8.089, 8.0875, 8.086, 8.0845, 8.083, 8.0815, 8.08, 8.0785, 8.077]],
  [1999.5, [8.075, 8.0735, 8.072, 8.0705, 8.069, 8.0675, 8.066, 8.0645, 8.063, 8.0615, 8.06, 8.0585, 8.057, 8.0555, 8.054]],
  [1999.6, [8.06, 8.058]],
  [2000.55, [8.074, 8.0725, 8.071, 8.0695, 8.068, 8.0665, 8.065, 8.0635, 8.062, 8.0605, 8.059]],
  [2000.8, [8.072, 8.0705, 8.069, 8.0675, 8.066, 8.0645, 8.063, 8.0615, 8.06, 8.0585, 8.057, 8.0555, 8.054]],
  [2001.0, [8.092, 8.0905, 8.089, 8.0875, 8.086, 8.0845, 8.083, 8.082]],
  [2001.5, [8.074, 8.0725, 8.071, 8.0695, 8.068, 8.0665, 8.065, 8.0635, 8.062, 8.0605, 8.059, 8.0575, 8.056]],
  [2001.7, [8.066, 8.064, 8.062, 8.06, 8.058, 8.056, 8.054, 8.052, 8.05, 8.0485, 8.047]],
  [2001.9, [8.074, 8.0725, 8.071, 8.0695, 8.068, 8.0665, 8.065, 8.0635, 8.062, 8.0605, 8.059]],
  [2002.6, [8.07, 8.0685, 8.067, 8.0655, 8.064, 8.0625, 8.061, 8.0595, 8.058, 8.0565, 8.055, 8.0535, 8.052, 8.0505, 8.049]],
  [2002.75, [8.078, 8.0765, 8.075, 8.0735, 8.072]],
  [2003.0, [8.079, 8.0775, 8.076, 8.075]],
  [2003.5, [8.066, 8.0645, 8.063, 8.0615, 8.06, 8.0585, 8.057, 8.0555, 8.054, 8.0525, 8.051, 8.0495, 8.048, 8.0465, 8.045, 8.0435, 8.042, 8.04, 8.037]],
  [2004.7, [8.062, 8.0605, 8.059, 8.0575, 8.056, 8.0545, 8.053, 8.0515, 8.05, 8.0485, 8.047, 8.0455, 8.044, 8.0425, 8.041, 8.0395, 8.038, 8.036]],
  [2005.65, [8.063, 8.0615, 8.06, 8.0585, 8.057, 8.0555, 8.054, 8.0525, 8.051, 8.0495, 8.048, 8.0465, 8.045, 8.0435, 8.042, 8.0405, 8.039, 8.037, 8.035]],
  [2005.85, [8.058, 8.0565, 8.055, 8.0535, 8.052, 8.0505, 8.049, 8.0475, 8.046]],
  [2006.9, [8.06, 8.0585, 8.057, 8.0555, 8.054, 8.0525, 8.052]],
  [2008.6, [8.066, 8.0645, 8.063, 8.0615, 8.06, 8.0585, 8.057, 8.0555, 8.054, 8.0525, 8.051, 8.0495, 8.048, 8.0465, 8.045, 8.0435, 8.042, 8.0405, 8.039, 8.037]],
  [2008.85, [8.06, 8.0585, 8.057, 8.0555, 8.054, 8.0525, 8.051, 8.0495, 8.048]],
  [2009.5, [8.069, 8.0675, 8.066, 8.0645, 8.063, 8.0615, 8.06, 8.0585, 8.057, 8.0555, 8.054, 8.0525, 8.051, 8.0495, 8.048, 8.0465, 8.045, 8.0435, 8.042]],
  [2009.75, [8.062, 8.0605, 8.059, 8.0575, 8.056, 8.0545, 8.053, 8.0515, 8.05, 8.0485, 8.047, 8.0455, 8.044, 8.0425, 8.041, 8.0395, 8.038, 8.0365, 8.034]],
  [2010.65, [8.058, 8.0565, 8.055, 8.0535, 8.052, 8.0505, 8.049, 8.0475, 8.046, 8.0445, 8.043, 8.0415, 8.04, 8.0385, 8.037]],
  [2010.85, [8.063, 8.05, 8.0485, 8.047, 8.0455, 8.044, 8.0425, 8.041, 8.0395, 8.038, 8.0365, 8.035, 8.0335, 8.032, 8.03]],
  [2011.7, [8.068, 8.0665, 8.065, 8.0635, 8.062, 8.0605, 8.059, 8.0575, 8.056, 8.0545, 8.053, 8.0515, 8.05, 8.0485, 8.047, 8.0455, 8.044, 8.0425, 8.041]],
  [2011.85, [8.055, 8.0525, 8.05, 8.0475, 8.045, 8.0425, 8.04, 8.0375, 8.035, 8.033, 8.031, 8.028]],
  [2012.55, [8.056, 8.0545, 8.053, 8.0515, 8.05, 8.0485, 8.047, 8.0455, 8.044, 8.0425, 8.041, 8.0395, 8.038]],
  [2013.55, [8.048, 8.0465, 8.045, 8.0435, 8.042, 8.0405, 8.039, 8.037]],
  [2014.6, [8.049, 8.0475, 8.046, 8.0445, 8.043, 8.0415, 8.04, 8.0385, 8.037, 8.0355, 8.034, 8.0325, 8.031, 8.0295, 8.028, 8.026]],
  [2014.85, [8.065, 8.0635, 8.062, 8.0605, 8.059, 8.0575, 8.056, 8.0545, 8.053, 8.0515, 8.05, 8.0485, 8.047, 8.0455, 8.044]],
  [2015.45, [8.058, 8.0565, 8.055, 8.0535, 8.052, 8.0505, 8.049, 8.0475, 8.046, 8.0445, 8.043]],
  [2015.6, [8.05, 8.0485, 8.047, 8.0455, 8.044, 8.0425, 8.041, 8.0395, 8.038, 8.0365, 8.035, 8.0335, 8.032, 8.03]],
  [2017.95, [8.058, 8.0565, 8.055, 8.0535, 8.052, 8.0505, 8.049, 8.0475, 8.046, 8.0445, 8.043, 8.0415, 8.04, 8.0385, 8.037, 8.0355, 8.034, 8.032]],
  [2018.85, [8.033, 8.0315, 8.03, 8.0285, 8.027, 8.0255, 8.024]],
];
const phTrendDry: Pt[] = [[1998.05, 8.0772], [2018.8, 8.0506]];
const phTrendWet: Pt[] = [[1998.55, 8.0657], [2018.8, 8.0381]];
const phTrendAll: Pt[] = [[1998.05, 8.0717], [2018.95, 8.0425]];

// ---------- (f) fCO2 ----------
const fco2Dry: Cruise[] = [
  [1998.05, [370, 368.5, 367, 365.5, 364, 362.5, 361, 359.5, 358, 356, 354, 352, 350]],
  [1998.2, [381, 379.5, 378, 376.5, 375, 373.5, 372, 370.5, 369, 367.5, 366]],
  [1998.35, [373, 371.5, 370, 368.5]],
  [1998.95, [365, 363.5, 362, 360.5, 359, 357.5, 356, 354.5, 353, 351]],
  [1999.15, [376, 374.5, 373, 371.5, 370, 368.5, 367, 365.5, 364, 362.5, 361, 359.5, 358, 356.5, 355]],
  [1999.3, [370, 368.5, 367]],
  [1999.45, [371, 372.5, 374, 375.5, 377, 378.5, 380, 381.5, 383]],
  [2000.3, [366, 364.5, 363, 361.5, 360, 358.5]],
  [2000.45, [352, 347.5]],
  [2000.95, [366, 364.5, 363, 361.5, 360]],
  [2001.4, [371, 372, 373, 374, 375]],
  [2002.05, [387, 385.5, 384, 382.5, 381, 379.5, 378, 376.5, 375, 364]],
  [2002.45, [388, 386.5, 385, 383.5, 382, 380.5, 379, 377.5, 376]],
  [2002.95, [376, 374.5, 373, 371.5, 370]],
  [2003.15, [373, 371.5, 370, 368.5, 367, 365.5, 364, 362.5, 361]],
  [2003.35, [385, 383.5, 382, 380.5, 379, 377.5, 376, 374.5, 373, 371.5, 370]],
  [2007.0, [390, 388.5, 387, 385.5, 384, 382.5, 381, 380]],
  [2008.25, [376, 375]],
  [2008.5, [389, 387.5, 386, 384.5, 383]],
  [2009.05, [399, 397.5, 396, 394.5, 393, 391.5, 390, 388.5, 387, 385]],
  [2009.4, [381, 379.5, 378, 376.5, 375]],
  [2010.0, [397, 395.5, 394, 392.5, 391, 389.5, 388, 386.5, 385]],
  [2011.05, [394, 392.5, 391, 389.5, 388, 386.5, 385, 384]],
  [2012.05, [390, 388.5, 387, 385.5, 384, 382.5, 381, 379.5, 378, 376.5, 375]],
  [2012.2, [373, 371.5, 370, 368, 366, 364.5, 363, 361.5, 360, 358]],
  [2012.45, [385, 383.5, 382, 381]],
  [2013.5, [396, 394.5, 393, 391.5, 390, 388.5, 387, 385, 383]],
  [2014.95, [390, 388.5, 387, 385.5, 384, 382.5, 381, 379.5, 378, 376.5, 375, 373, 371]],
  [2015.15, [402, 400.5, 399, 397.5, 396, 394.5, 393, 391.5, 390]],
  [2015.3, [398, 396.5, 395, 393.5, 392]],
  [2015.95, [408, 406.5, 405, 403.5, 402, 400.5, 399, 397.5, 396]],
  [2018.25, [406, 404.5, 403, 401.5, 400, 398.5, 397, 396]],
  [2018.45, [405, 403.5, 402, 400.5, 399]],
  [2018.5, [390, 385, 384]],
];
const fco2Wet: Cruise[] = [
  [1998.5, [390, 388.5, 387, 385.5, 384, 382.5, 381, 379.5, 378, 376.5, 375, 373.5, 372, 370.5, 369]],
  [1998.7, [394, 392.5, 391, 389.5, 388, 386.5, 385, 383.5, 382, 380.5, 379, 377.5, 376, 374.5, 373, 371.5, 370]],
  [1998.85, [378, 376.5, 375, 373.5, 372, 370.5, 369]],
  [1999.05, [372, 370.5, 369, 367.5, 366, 364.5, 363, 361.5, 360, 358.5, 357, 355]],
  [1999.55, [393, 391.5, 390, 388.5, 387, 385.5, 384, 382.5, 381, 379.5, 378, 376.5, 375, 373.5, 372, 370.5, 369, 367.5, 366]],
  [2000.7, [382, 380.5, 379, 377.5, 376, 374.5, 373, 371.5, 370, 368.5, 367, 366, 354]],
  [2001.0, [378, 376.5, 375, 373.5, 372, 370.5, 369, 367.5, 366, 364.5, 363, 361.5, 360, 358.5, 357, 355.5, 354, 352, 350]],
  [2001.55, [396, 394.5, 393, 391.5, 390, 388.5, 387, 385.5, 384, 382.5, 381]],
  [2001.8, [382, 380.5, 379, 377.5, 376, 374.5, 373, 371.5, 370, 368.5, 367, 365.5, 364, 362.5, 361, 359, 357]],
  [2002.55, [386, 384.5, 383, 381.5, 380, 378.5, 377, 375.5, 374, 372.5, 371, 369.5, 368]],
  [2002.75, [393, 391.5, 390, 388.5, 387, 385.5, 384, 382.5, 381, 379.5, 378, 376.5, 375, 373.5, 372, 370.5, 369, 367.5, 366, 356]],
  [2003.5, [408, 405, 401, 399.5, 398, 396.5, 395, 393.5, 392, 390.5, 389, 387.5, 386, 384.5, 383, 381.5, 380, 379]],
  [2003.65, [378, 376.5, 375, 373.5, 372, 370.5, 369, 367.5, 366, 358]],
  [2004.7, [401, 398, 396, 394.5, 393, 391.5, 390, 388.5, 387, 385.5, 384, 382.5, 381, 379.5, 378, 376.5, 375, 373.5, 372]],
  [2005.6, [400, 398.5, 397, 395.5, 394, 392.5, 391, 389.5, 388, 386.5, 385, 383.5, 382, 380.5, 379]],
  [2005.8, [411, 409, 407, 405.5, 404, 402.5, 401, 399.5, 398, 396.5, 395, 393.5, 392, 390.5, 389, 387.5, 386, 384.5, 383, 381.5, 380, 378.5, 377, 375.5, 374, 372, 370, 367]],
  [2007.0, [395, 393.5, 392, 390.5, 389, 387.5, 386, 385]],
  [2008.4, [409, 406, 404, 402.5, 401, 399.5, 398, 396.5, 395, 393.5, 392, 390.5, 389, 387.5, 386, 384.5, 383, 381.5, 380, 378.5, 377, 375.5, 374, 372, 370, 368, 366]],
  [2008.55, [362, 356, 353, 347]],
  [2008.7, [397, 395.5, 394, 392.5, 391, 389.5, 388, 386.5, 385, 383.5, 382, 380.5, 379]],
  [2009.6, [403, 401.5, 400, 398.5, 397, 395.5, 394, 392.5, 391, 389.5, 388, 386.5, 385, 383.5, 382, 380.5, 379, 377.5]],
  [2009.8, [406, 404.5, 403, 401.5, 400, 398.5, 397, 395.5, 394, 392.5, 391, 389.5, 388, 386.5, 385, 383.5, 382, 380.5, 379, 377.5, 376, 374.5, 373, 371.5, 370, 368, 366, 364]],
  [2009.9, [358, 356.5, 355, 353.5, 352, 350.5, 349, 347]],
  [2010.65, [411, 409.5, 408, 406.5, 405, 403.5, 402, 400.5, 399, 397.5, 396, 394.5, 393, 391.5, 390, 388.5, 387, 385.5, 384, 382.5, 381, 380]],
  [2010.85, [398, 396.5, 395, 393.5, 392, 390.5, 389, 387.5, 386, 384.5, 383, 381.5, 380, 378.5, 377, 375.5, 374, 372.5, 371, 369.5, 368, 366, 364, 362, 360, 351]],
  [2011.65, [416, 413, 406, 404.5, 403, 401.5, 400, 398.5, 397, 395.5, 394, 392.5, 391, 389.5, 388, 386.5, 385, 383.5, 382, 380.5, 379, 377.5, 376, 374.5, 373, 371]],
  [2012.3, [395, 393.5, 392, 390.5, 389, 387.5, 386, 384.5, 383, 381.5, 381]],
  [2012.6, [403, 401.5, 400, 398.5, 397, 395.5, 394, 392.5, 391, 389.5, 388, 386.5, 385, 383.5, 383]],
  [2013.5, [407, 405.5, 404, 402.5, 401, 399.5, 398, 396.5, 396]],
  [2014.65, [423, 421.5, 420, 418.5, 417, 415.5, 414, 412.5, 411, 409.5, 408, 406.5, 405, 403.5, 402, 400.5, 399, 397.5, 396, 394.5, 393, 391.5, 390, 388.5, 387, 385.5, 384, 382.5, 381, 379.5, 378, 377]],
  [2014.8, [410, 408.5, 407, 405.5, 404, 402.5, 401, 399.5, 398]],
  [2015.5, [407, 405.5, 404, 402.5, 401, 399.5, 398, 396.5, 395, 393.5, 392, 391]],
  [2015.7, [405, 403.5, 402, 400.5, 399, 397.5, 396, 394.5, 393, 391.5, 390, 388.5, 387, 386, 380, 373]],
  [2018.0, [417, 415.5, 414, 412.5, 411, 409.5, 408, 406.5, 405, 403.5, 402, 400.5, 399, 397.5, 396, 394.5, 393, 391.5, 390.5]],
  [2018.85, [420, 418.5, 417, 415.5, 414, 412.5, 411, 409.5, 409]],
];
const fco2TrendDry: Pt[] = [[1998.05, 368.2], [2018.5, 399.3]];
const fco2TrendWet: Pt[] = [[1998.75, 375.8], [2018.65, 403.5]];
const fco2TrendAll: Pt[] = [[1998.05, 370.5], [2018.9, 402]];

// ---------- layout ----------
const FONT = "DejaVu Sans";
const RED = "#ee1a1a";
const BLUE = "#1a1ae0";
const COLS = [
  { x0: 88.5, x1: 698, side: "left" },
  { x0: 719.5, x1: 1329, side: "right" },
];
const ROWS = [
  { y0: 5, y1: 426.7 },
  { y0: 451.7, y1: 872.7 },
  { y0: 898.3, y1: 1319.3 },
];
const X_DOMAIN: [number, number] = [1997.033, 2019.886];

interface PanelCfg {
  tag: string;
  yLabel: string;
  labelX: number;
  yDomain: [number, number];
  ticks: number[];
  fmt: (v: number) => string;
  dry: Cruise[];
  wet: Cruise[];
  trendDry?: Pt[];
  trendWet?: Pt[];
  trendAll?: Pt[];
}

const fmtInt = d3.format("d");
const fmt2 = d3.format(".2f");

const panels: PanelCfg[] = [
  { tag: "(a)", yLabel: "SSS [-]", labelX: 37, yDomain: [30.93, 36.69], ticks: sssTicks, fmt: fmtInt, dry: sssDry, wet: sssWet, trendDry: sssTrendDry, trendWet: sssTrendWet },
  { tag: "(b)", yLabel: "SST [°C]", labelX: 1381, yDomain: [24.63, 30.27], ticks: sstTicks, fmt: fmtInt, dry: sstDry, wet: sstWet },
  { tag: "(c)", yLabel: "TA [µmol kg⁻¹]", labelX: 16, yDomain: [2062.2, 2396.2], ticks: taTicks, fmt: fmtInt, dry: taDry, wet: taWet, trendDry: taTrendDry, trendWet: taTrendWet },
  { tag: "(d)", yLabel: "DIC  [µmol kg⁻¹]", labelX: 1400, yDomain: [1765.6, 2055.2], ticks: dicTicks, fmt: fmtInt, dry: dicDry, wet: dicWet, trendDry: dicTrendDry, trendWet: dicTrendWet, trendAll: dicTrendAll },
  { tag: "(e)", yLabel: "pH  [-]", labelX: 23, yDomain: [8.02, 8.0994], ticks: phTicks, fmt: fmt2, dry: phDry, wet: phWet, trendDry: phTrendDry, trendWet: phTrendWet, trendAll: phTrendAll },
  { tag: "(f)", yLabel: "fCO₂  [µatm]", labelX: 1393, yDomain: [343.4, 426.6], ticks: fco2Ticks, fmt: fmtInt, dry: fco2Dry, wet: fco2Wet, trendDry: fco2TrendDry, trendWet: fco2TrendWet, trendAll: fco2TrendAll },
];

const MARK_R = 2.6;
const MARK_SW = 1.35;

function Points({ data, x, y, color }: { data: Cruise[]; x: any; y: any; color: string }) {
  const pts: React.ReactNode[] = [];
  data.forEach(([t, vals], i) => {
    vals.forEach((v, j) => {
      pts.push(
        <circle key={`${i}-${j}`} cx={x(t)} cy={y(v)} r={MARK_R} fill="#ffffff" fillOpacity={0.35} stroke={color} strokeWidth={MARK_SW} />
      );
    });
  });
  return <g>{pts}</g>;
}

function Panel({ cfg, idx }: { cfg: PanelCfg; idx: number }) {
  const col = COLS[idx % 2];
  const row = ROWS[Math.floor(idx / 2)];
  const isLeft = col.side === "left";
  const isBottom = Math.floor(idx / 2) === 2;
  const x = d3.scaleLinear().domain(X_DOMAIN).range([col.x0, col.x1]);
  const y = d3.scaleLinear().domain(cfg.yDomain).range([row.y1, row.y0]);
  const line = d3.line<Pt>().x((d) => x(d[0])).y((d) => y(d[1]));
  const clipId = `clip${idx}`;
  const cx = (col.x0 + col.x1) / 2;
  const cy = (row.y0 + row.y1) / 2;
  const legW = 93;
  const legH = 55;
  const legX = isLeft ? col.x0 + 8.5 : col.x1 - 8.5 - legW;
  const legY = row.y1 - 8.5 - legH;

  return (
    <g>
      <defs>
        <clipPath id={clipId}>
          <rect x={col.x0} y={row.y0} width={col.x1 - col.x0} height={row.y1 - row.y0} />
        </clipPath>
      </defs>
      <g stroke="#b8b8b8" strokeWidth={0.9} strokeDasharray="1.5 2.5">
        {yearTicks.map((t) => (
          <line key={`gx${t}`} x1={x(t)} x2={x(t)} y1={row.y0} y2={row.y1} />
        ))}
        {cfg.ticks.map((v) => (
          <line key={`gy${v}`} x1={col.x0} x2={col.x1} y1={y(v)} y2={y(v)} />
        ))}
      </g>
      <g clipPath={`url(#${clipId})`}>
        <Points data={cfg.dry} x={x} y={y} color={RED} />
        <Points data={cfg.wet} x={x} y={y} color={BLUE} />
        {cfg.trendDry && (
          <path d={line(cfg.trendDry) || ""} fill="none" stroke="#ff0000" strokeWidth={3.2} strokeDasharray="15 5 3 5" />
        )}
        {cfg.trendWet && (
          <path d={line(cfg.trendWet) || ""} fill="none" stroke="#0000ff" strokeWidth={3.2} strokeDasharray="17 7" />
        )}
        {cfg.trendAll && (
          <path d={line(cfg.trendAll) || ""} fill="none" stroke="#000000" strokeWidth={3.2} />
        )}
      </g>
      <rect x={col.x0} y={row.y0} width={col.x1 - col.x0} height={row.y1 - row.y0} fill="none" stroke="#000" strokeWidth={1.5} />
      {yearTicks.map((t) => (
        <line key={`xt${t}`} x1={x(t)} x2={x(t)} y1={row.y1} y2={row.y1 + 5} stroke="#000" strokeWidth={1.2} />
      ))}
      {isBottom &&
        yearTicks.map((t) => (
          <text
            key={`xl${t}`}
            transform={`translate(${x(t)},${row.y1 + 35}) rotate(-45)`}
            textAnchor="middle"
            dominantBaseline="central"
            fontFamily={FONT}
            fontSize={17}
            fill="#111"
          >
            {t}
          </text>
        ))}
      {isBottom && (
        <text x={cx} y={1405} textAnchor="middle" fontFamily={FONT} fontSize={21} fill="#111">
          Year
        </text>
      )}
      {cfg.ticks.map((v) => (
        <g key={`yt${v}`}>
          <line
            x1={isLeft ? col.x0 - 5 : col.x1}
            x2={isLeft ? col.x0 : col.x1 + 5}
            y1={y(v)}
            y2={y(v)}
            stroke="#000"
            strokeWidth={1.2}
          />
          <text
            x={isLeft ? col.x0 - 9 : col.x1 + 9}
            y={y(v)}
            textAnchor={isLeft ? "end" : "start"}
            dominantBaseline="central"
            fontFamily={FONT}
            fontSize={15.5}
            fill="#111"
          >
            {cfg.fmt(v)}
          </text>
        </g>
      ))}
      <text
        transform={`translate(${cfg.labelX},${cy}) rotate(-90)`}
        textAnchor="middle"
        dominantBaseline="central"
        fontFamily={FONT}
        fontSize={21}
        fill="#111"
      >
        {cfg.yLabel}
      </text>
      <text x={col.x0 + 14} y={row.y0 + 28} fontFamily={FONT} fontWeight="bold" fontSize={19.5} fill="#111">
        {cfg.tag}
      </text>
      <g>
        <rect x={legX} y={legY} width={legW} height={legH} rx={4} fill="#fff" fillOpacity={0.85} stroke="#cccccc" strokeWidth={1} />
        <circle cx={legX + 24} cy={legY + 16} r={MARK_R} fill="#fff" fillOpacity={0.35} stroke={RED} strokeWidth={MARK_SW} />
        <circle cx={legX + 24} cy={legY + 40.5} r={MARK_R} fill="#fff" fillOpacity={0.35} stroke={BLUE} strokeWidth={MARK_SW} />
        <text x={legX + 53} y={legY + 16} dominantBaseline="central" fontFamily={FONT} fontSize={16} fill="#111">
          Dry
        </text>
        <text x={legX + 53} y={legY + 40.5} dominantBaseline="central" fontFamily={FONT} fontSize={16} fill="#111">
          Wet
        </text>
      </g>
    </g>
  );
}

export default function App() {
  return (
    <svg
      width={1417}
      height={1417}
      viewBox="0 0 1417 1417"
      style={{ position: "absolute", left: 0, top: 0, background: "#fff" }}
    >
      <rect x={0} y={0} width={1417} height={1417} fill="#fff" />
      {panels.map((p, i) => (
        <Panel key={p.tag} cfg={p} idx={i} />
      ))}
    </svg>
  );
}
